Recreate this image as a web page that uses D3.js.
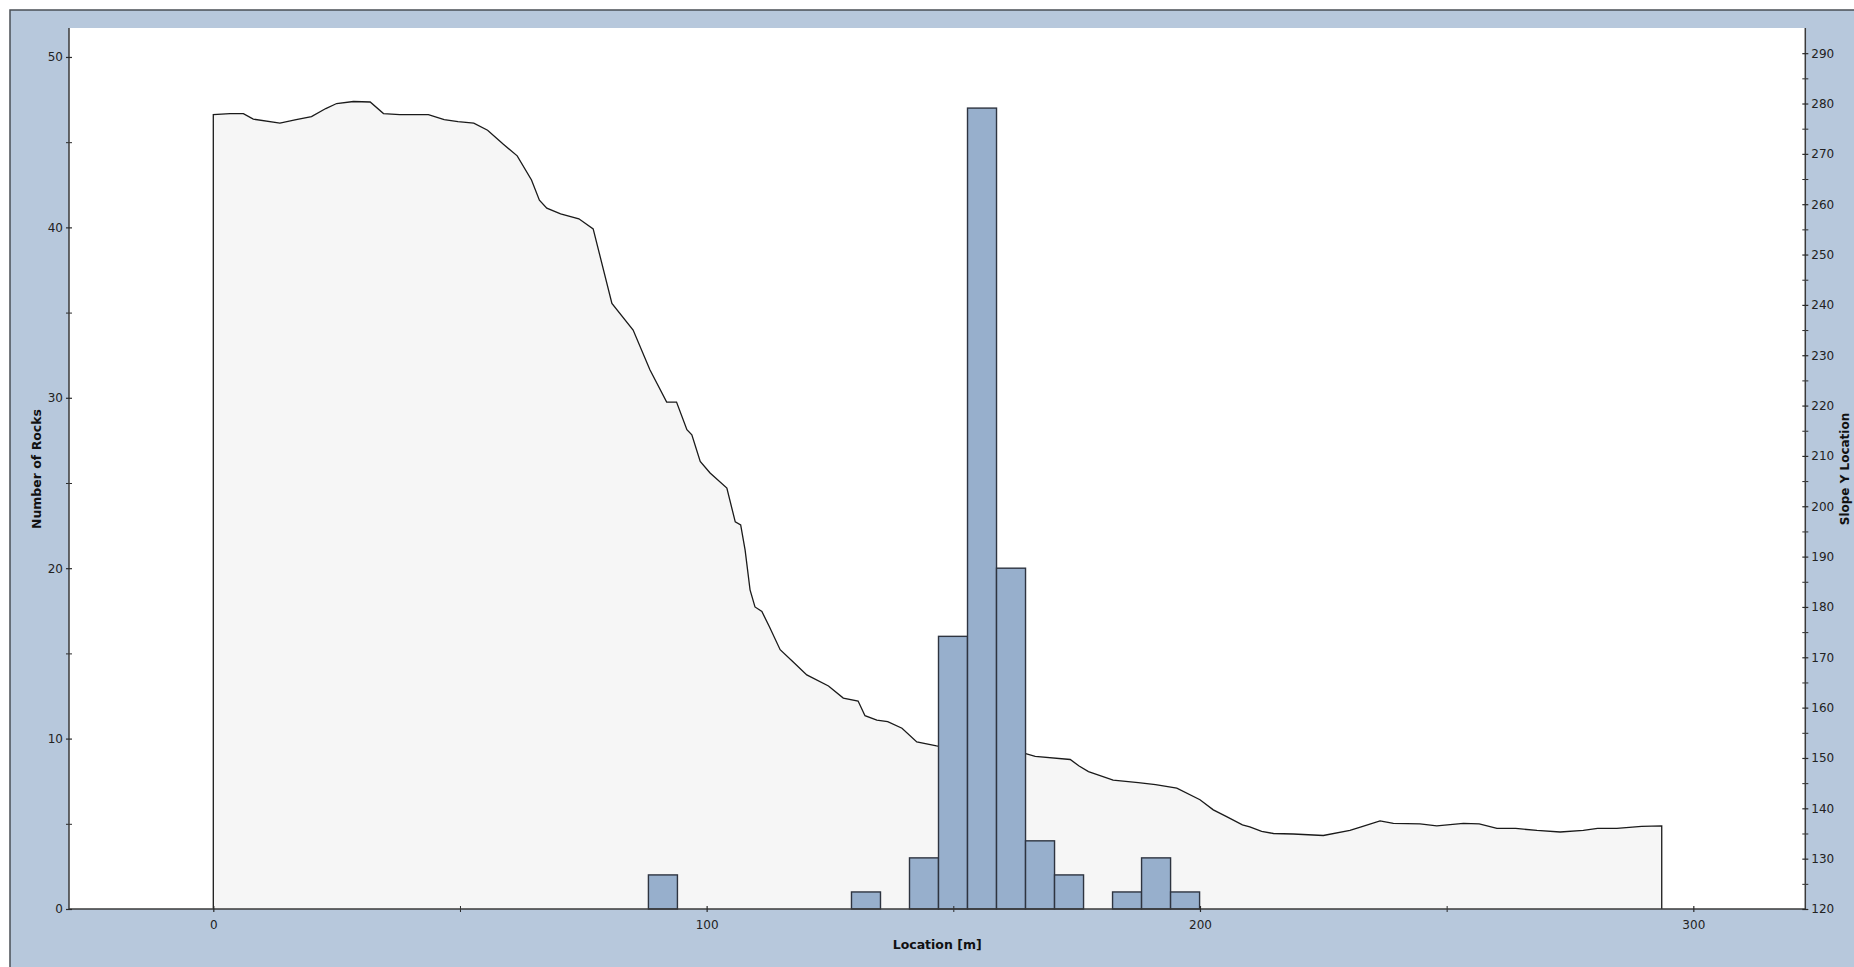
<!DOCTYPE html>
<html>
<head>
<meta charset="utf-8">
<script src="https://cdn.jsdelivr.net/npm/d3@7"></script>
<style>
html,body{margin:0;padding:0;background:#fff;}
svg{display:block;font-family:"DejaVu Sans",Verdana,sans-serif;}
</style>
</head>
<body>
<svg id="chart" width="1854" height="967"></svg>
<script>
// ---- data ----
const profileX = [0, 3.4, 6.1, 8.1, 13.5, 16.8, 19.9, 22.8, 25, 28.4, 31.8, 34.5, 37.8, 43.6, 46.8, 49.6, 52.8, 55.6, 58.8, 61.6, 64.5, 66.1, 67.6, 70.4, 74.1, 77, 80.8, 85.1, 88.5, 91.9, 93.9, 96, 97, 98.7, 100.7, 104.1, 105.8, 106.9, 107.8, 108.8, 109.8, 111.2, 112.7, 114.9, 117.5, 120.3, 124.7, 127.7, 130.7, 132.1, 134.5, 136.7, 139.6, 142.6, 146.6, 149, 155, 160, 164.5, 166.6, 173.7, 175.5, 177.4, 182.4, 187.5, 191, 195.3, 200, 202.7, 205.5, 208.6, 210.1, 212.5, 214.9, 218.9, 225, 230.4, 233, 236.5, 239.2, 244.6, 248, 253.4, 256.6, 260.2, 264, 268.3, 273, 277.7, 280.6, 284.5, 289.5, 293.6];
const profileY = [277.8, 278, 278, 276.9, 276.1, 276.8, 277.4, 279, 280, 280.4, 280.3, 278, 277.8, 277.8, 276.8, 276.4, 276.1, 274.7, 271.9, 269.6, 264.8, 260.8, 259.2, 258.1, 257.1, 255.1, 240.3, 235, 227.1, 220.7, 220.7, 215.2, 214.2, 208.9, 206.6, 203.6, 196.9, 196.3, 191.3, 183.4, 180, 179.1, 176.1, 171.5, 169.1, 166.5, 164.3, 161.9, 161.3, 158.4, 157.5, 157.2, 155.9, 153.2, 152.4, 152, 151.5, 151.2, 150.9, 150.3, 149.7, 148.4, 147.3, 145.6, 145.1, 144.7, 144, 141.7, 139.7, 138.3, 136.7, 136.3, 135.4, 135, 134.9, 134.6, 135.6, 136.4, 137.5, 137, 136.9, 136.5, 137, 136.9, 136, 136, 135.6, 135.3, 135.6, 136, 136, 136.4, 136.5];
const binWidth = 5.88;
const binStart = [88.2, 129.36, 141.12, 147, 152.88, 158.76, 164.64, 170.52, 182.28, 188.16, 194.04];
const rockCount = [2, 1, 3, 16, 47, 20, 4, 2, 1, 3, 1];
const xTicks = [0, 100, 200, 300];
const xMinorTicks = [50, 150, 250];
const leftTicks = [0, 10, 20, 30, 40, 50];
const leftMinorTicks = [5, 15, 25, 35, 45];
const rightTicks = [120, 130, 140, 150, 160, 170, 180, 190, 200, 210, 220, 230, 240, 250, 260, 270, 280, 290];
const rightMinorTicks = [125, 135, 145, 155, 165, 175, 185, 195, 205, 215, 225, 235, 245, 255, 265, 275, 285];

// ---- layout ----
const L = 69, R = 1805.3, T = 28, B = 909;
const svg = d3.select("#chart");

// outer panel
svg.append("rect").attr("x", 10).attr("y", 10).attr("width", 1860).attr("height", 980)
  .attr("fill", "#b7c8dc").attr("stroke", "#4a4f55").attr("stroke-width", 1.5);
// plot area
svg.append("rect").attr("x", L).attr("y", T).attr("width", R - L).attr("height", B - T).attr("fill", "#ffffff");

const x = d3.scaleLinear().domain([-29.25, 322.7]).range([L, R]);
const yL = d3.scaleLinear().domain([0, 51.7]).range([B, T]);
const yR = d3.scaleLinear().domain([120, 295]).range([B, T]);

// profile area
const prof = profileX.map((v, i) => [v, profileY[i]]);
const area = d3.area().x(d => x(d[0])).y0(yR(120)).y1(d => yR(d[1]));
svg.append("path").datum(prof).attr("d", area).attr("fill", "#f6f6f6");
const outline = [[profileX[0], 120]].concat(prof).concat([[profileX[profileX.length - 1], 120]]);
svg.append("path").datum(outline)
  .attr("d", d3.line().x(d => x(d[0])).y(d => yR(d[1])))
  .attr("fill", "none").attr("stroke", "#1a1a1a").attr("stroke-width", 1.3);

// bars
svg.append("g").selectAll("rect").data(binStart).join("rect")
  .attr("x", d => x(d))
  .attr("width", d => x(d + binWidth) - x(d))
  .attr("y", (d, i) => yL(rockCount[i]))
  .attr("height", (d, i) => yL(0) - yL(rockCount[i]))
  .attr("fill", "#97afcc").attr("stroke", "#2e3440").attr("stroke-width", 1.4);

// axes
function styleAxis(g) {
  g.select(".domain").attr("stroke", "#3a3a3a").attr("stroke-width", 1.5);
  g.selectAll(".tick line").attr("stroke", "#2a2a2a").attr("stroke-width", 1.2);
  g.selectAll(".tick text").attr("fill", "#222").style("font-size", "12px")
    .style("font-family", "'DejaVu Sans', Verdana, sans-serif");
}
const fmt = d3.format("d");

// bottom
const gxMinor = svg.append("g").attr("transform", `translate(0,${B})`)
  .call(d3.axisBottom(x).tickValues(xMinorTicks).tickFormat("").tickSizeOuter(0).tickSize(3));
gxMinor.select(".domain").remove();
gxMinor.selectAll(".tick line").attr("y1", -3).attr("y2", 3).attr("stroke", "#2a2a2a");
const gx = svg.append("g").attr("transform", `translate(0,${B})`)
  .call(d3.axisBottom(x).tickValues(xTicks).tickFormat(fmt).tickSizeOuter(0).tickSize(3).tickPadding(8));
gx.selectAll(".tick line").attr("y1", -3);
styleAxis(gx);
gx.select(".domain").attr("d", `M${L},0H${R}`);

// left
const glMinor = svg.append("g").attr("transform", `translate(${L},0)`)
  .call(d3.axisLeft(yL).tickValues(leftMinorTicks).tickFormat("").tickSizeOuter(0).tickSize(3));
glMinor.select(".domain").remove();
glMinor.selectAll(".tick line").attr("x1", 3).attr("stroke", "#2a2a2a");
const gl = svg.append("g").attr("transform", `translate(${L},0)`)
  .call(d3.axisLeft(yL).tickValues(leftTicks).tickFormat(fmt).tickSizeOuter(0).tickSize(3).tickPadding(3));
gl.selectAll(".tick line").attr("x1", 3);
styleAxis(gl);
gl.select(".domain").attr("d", `M0,${T}V${B}`);

// right
const grMinor = svg.append("g").attr("transform", `translate(${R},0)`)
  .call(d3.axisRight(yR).tickValues(rightMinorTicks).tickFormat("").tickSizeOuter(0).tickSize(3));
grMinor.select(".domain").remove();
grMinor.selectAll(".tick line").attr("x1", -3).attr("stroke", "#2a2a2a");
const gr = svg.append("g").attr("transform", `translate(${R},0)`)
  .call(d3.axisRight(yR).tickValues(rightTicks).tickFormat(fmt).tickSizeOuter(0).tickSize(3).tickPadding(3));
gr.selectAll(".tick line").attr("x1", -3);
styleAxis(gr);
gr.select(".domain").attr("d", `M0,${T}V${B}`);

// titles
svg.append("text").attr("x", (L + R) / 2).attr("y", 945).attr("dy", "0.35em")
  .attr("text-anchor", "middle").style("font-size", "12.5px").style("font-weight", "bold").attr("fill", "#111")
  .text("Location [m]");
svg.append("text").attr("transform", "translate(37,469) rotate(-90)").attr("dy", "0.35em")
  .attr("text-anchor", "middle").style("font-size", "12.5px").style("font-weight", "bold").attr("fill", "#111")
  .text("Number of Rocks");
svg.append("text").attr("transform", "translate(1849,469) rotate(-90)")
  .attr("text-anchor", "middle").style("font-size", "12px").style("font-weight", "bold").attr("fill", "#111")
  .text("Slope Y Location");
</script>
</body>
</html>
